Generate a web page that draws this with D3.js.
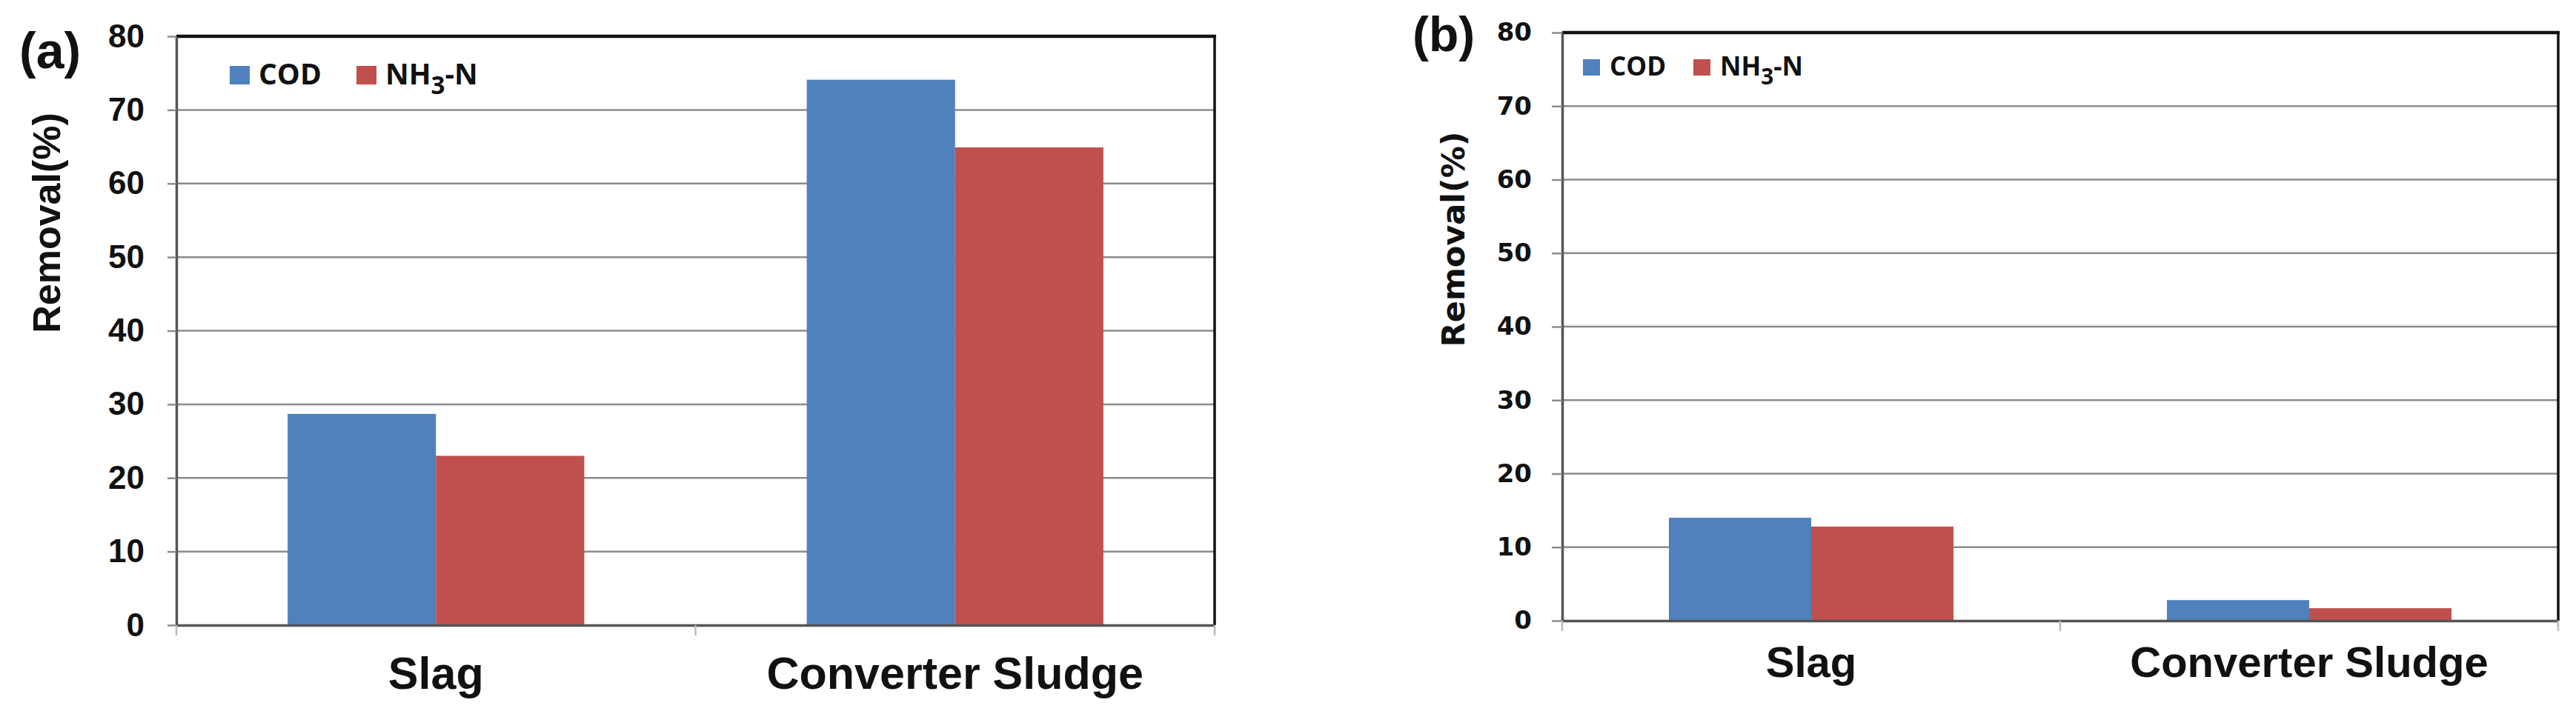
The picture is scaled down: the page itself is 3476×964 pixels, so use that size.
<!DOCTYPE html>
<html>
<head>
<meta charset="utf-8">
<script src="https://cdn.jsdelivr.net/npm/d3@7"></script>
<style>
  body { margin: 0; background: #fff; }
  svg { display: block; }
</style>
</head>
<body>
<div id="chart"></div>
<script>
// categories / series / ticks
const categories = ["Slag", "Converter Sludge"];
const seriesNames = ["COD", "NH3-N"];
const yTicks = [0, 10, 20, 30, 40, 50, 60, 70, 80];

// (a) removal %
const codA = [28.7, 74.1];
const nh3A = [23.0, 64.9];

// (b) removal %
const codB = [14.0, 2.8];
const nh3B = [12.8, 1.7];

const colors = ["#4F81BD", "#C0504D"];

const svg = d3.select("#chart")
  .append("svg")
  .attr("width", 3476)
  .attr("height", 964);

// layout of each panel (pixels)
const panelA = {
  tag: "(a)", tagX: 26, tagY: 92, tagSize: 68,
  left: 238, right: 1639, top: 49, bottom: 844,
  tickLen: 12, tickPad: 31, tickFont: "Liberation Sans", tickSize: 44,
  titleX: 63, titleY: 301, titleFont: "Liberation Sans", titleSize: 52,
  catBase: 930, catSize: 61,
  legX: 310, legY: 89, legW: 27, legH: 25, legTextDx: 39, legSecondX: 481,
  legBase: 114, legSize: 39
};
const panelB = {
  tag: "(b)", tagX: 1906, tagY: 69, tagSize: 66,
  left: 2108, right: 3452, top: 44, bottom: 838,
  tickLen: 14, tickPad: 27, tickFont: "DejaVu Sans", tickSize: 34,
  titleX: 1961, titleY: 323, titleFont: "DejaVu Sans", titleSize: 43,
  catBase: 914, catSize: 58,
  legX: 2136, legY: 80, legW: 23, legH: 22, legTextDx: 36, legSecondX: 2285,
  legBase: 102, legSize: 35
};

renderPanel(panelA, codA, nh3A);
renderPanel(panelB, codB, nh3B);

function renderPanel(o, cod, nh3) {
  const g = svg.append("g");

  // Excel default gap width 150%
  const x = d3.scaleBand()
    .domain(categories)
    .range([o.left, o.right])
    .paddingInner(0.6 / 1.4)
    .paddingOuter(0.3 / 1.4);
  const xs = d3.scaleBand()
    .domain(seriesNames)
    .range([0, x.bandwidth()]);
  const y = d3.scaleLinear()
    .domain([0, 80])
    .range([o.bottom, o.top]);

  // gridlines
  g.selectAll(".grid")
    .data(yTicks.filter(t => t > 0 && t < 80))
    .join("line")
    .attr("x1", o.left).attr("x2", o.right)
    .attr("y1", d => y(d)).attr("y2", d => y(d))
    .attr("stroke", "#8c8c8c")
    .attr("stroke-width", 2.5);

  // bars
  const rows = categories.map((c, i) => ({ cat: c, vals: [cod[i], nh3[i]] }));
  g.selectAll(".grp")
    .data(rows)
    .join("g")
    .attr("transform", d => `translate(${x(d.cat)},0)`)
    .selectAll("rect")
    .data(d => d.vals.map((v, j) => ({ s: seriesNames[j], v, j })))
    .join("rect")
    .attr("x", d => xs(d.s))
    .attr("y", d => y(d.v))
    .attr("width", xs.bandwidth())
    .attr("height", d => y(0) - y(d.v))
    .attr("fill", d => colors[d.j]);

  // plot frame: top and right in black
  g.append("line")
    .attr("x1", o.left).attr("x2", o.right + 2)
    .attr("y1", y(80)).attr("y2", y(80))
    .attr("stroke", "#111").attr("stroke-width", 4.5);
  g.append("line")
    .attr("x1", o.right).attr("x2", o.right)
    .attr("y1", y(80)).attr("y2", y(0))
    .attr("stroke", "#111").attr("stroke-width", 3.5);

  // y axis
  const yAxis = g.append("g")
    .attr("transform", `translate(${o.left},0)`)
    .call(d3.axisLeft(y).tickValues(yTicks).tickSize(o.tickLen).tickSizeOuter(0).tickPadding(o.tickPad));
  yAxis.select(".domain").attr("stroke", "#555").attr("stroke-width", 3.5);
  yAxis.selectAll(".tick line").attr("stroke", "#8c8c8c").attr("stroke-width", 2.5);
  yAxis.selectAll(".tick text")
    .attr("font-family", o.tickFont)
    .attr("font-size", o.tickSize)
    .attr("font-weight", "bold")
    .attr("fill", "#111");

  // x axis
  const xAxis = g.append("g")
    .attr("transform", `translate(0,${y(0)})`)
    .call(d3.axisBottom(x).tickSize(0).tickSizeOuter(0));
  xAxis.select(".domain").attr("stroke", "#555").attr("stroke-width", 3.5);
  xAxis.selectAll(".tick text")
    .attr("y", o.catBase - o.bottom)
    .attr("dy", 0)
    .attr("font-family", "Liberation Sans, Arial, sans-serif")
    .attr("font-size", o.catSize)
    .attr("font-weight", "bold")
    .attr("fill", "#111");

  // category boundary ticks under the axis
  const bounds = categories.map(c => x(c) - x.step() * x.paddingInner() / 2).concat([o.right]);
  bounds[0] = o.left;
  g.selectAll(".btick")
    .data(bounds)
    .join("line")
    .attr("x1", d => d).attr("x2", d => d)
    .attr("y1", y(0)).attr("y2", y(0) + 14)
    .attr("stroke", "#bbb")
    .attr("stroke-width", 2.5);

  // axis title
  g.append("text")
    .attr("transform", `translate(${o.titleX},${o.titleY}) rotate(-90)`)
    .attr("text-anchor", "middle")
    .attr("dominant-baseline", "central")
    .attr("font-family", o.titleFont)
    .attr("font-size", o.titleSize)
    .attr("font-weight", "bold")
    .attr("fill", "#111")
    .text("Removal(%)");

  // panel tag
  g.append("text")
    .attr("x", o.tagX).attr("y", o.tagY)
    .attr("font-family", "Liberation Sans")
    .attr("font-size", o.tagSize)
    .attr("font-weight", "bold")
    .attr("fill", "#111")
    .text(o.tag);

  // legend
  const legXs = [o.legX, o.legSecondX];
  seriesNames.forEach((s, j) => {
    g.append("rect")
      .attr("x", legXs[j]).attr("y", o.legY)
      .attr("width", o.legW).attr("height", o.legH)
      .attr("fill", colors[j]);
    const t = g.append("text")
      .attr("x", legXs[j] + o.legTextDx).attr("y", o.legBase)
      .attr("font-family", "Open Sans")
      .attr("font-size", o.legSize)
      .attr("font-weight", "bold")
      .attr("fill", "#111");
    if (s === "NH3-N") {
      const sub = Math.round(o.legSize * 0.33);
      t.append("tspan").text("NH");
      t.append("tspan").attr("dy", sub).attr("font-size", o.legSize * 0.85).text("3");
      t.append("tspan").attr("dy", -sub).text("-N");
    } else {
      t.text(s);
    }
  });
}
</script>
</body>
</html>
